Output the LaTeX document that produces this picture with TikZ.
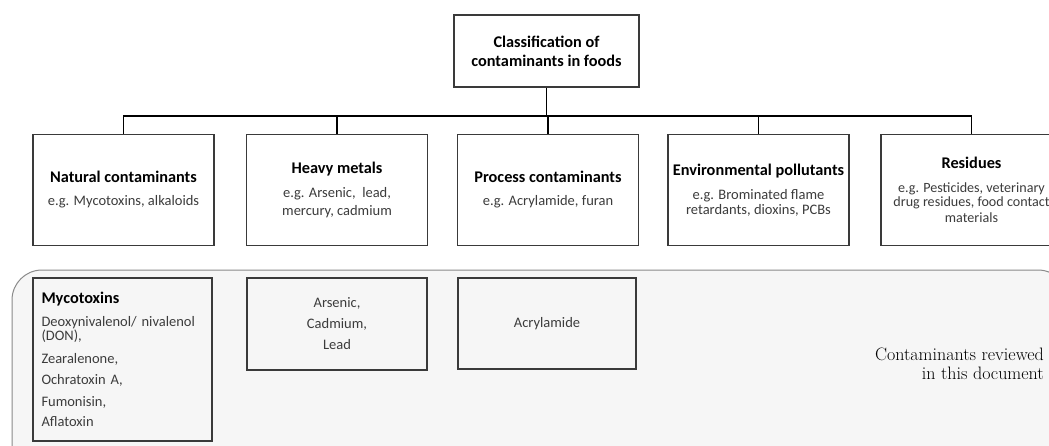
\documentclass[tikz,border=0pt]{standalone}
\usepackage{fontspec}
\newfontfamily\calfont{Carlito}
\definecolor{boxline}{HTML}{3A3A3A}
\definecolor{subtxt}{HTML}{3C3C3C}
\definecolor{regionfill}{HTML}{F6F6F6}
\definecolor{regionline}{HTML}{8A8A8A}
\tikzset{
  catbox/.style={draw=boxline, line width=1.2pt, fill=white, inner sep=0pt,
    align=center, text=subtxt, minimum width=181pt, minimum height=111pt,
    font=\calfont\fontsize{14.5}{16}\selectfont},
  subbox/.style={draw=boxline, line width=1.2pt, fill=regionfill, inner sep=0pt,
    align=center, text=subtxt, font=\calfont\fontsize{14.5}{21}\selectfont},
  conn/.style={draw=black, line width=1.5pt},
}
\newcommand{\ttl}[1]{{\color{black}\bfseries\fontsize{16.3}{16}\selectfont #1}}
\begin{document}
\begin{tikzpicture}[x=1pt,y=-1pt]
\useasboundingbox (0,0) rectangle (1049,445);
\fill[white] (0,0) rectangle (1049,445);
\begin{scope}
\clip (0,0) rectangle (1049,445);
\draw[draw=regionline, fill=regionfill, line width=1pt, rounded corners=30pt]
  (12,270) rectangle (1068,480);
\end{scope}

% top box
\node[draw=boxline, line width=1.2pt, fill=white, inner sep=0pt, align=center,
  minimum width=185pt, minimum height=72pt,
  font=\calfont\bfseries\fontsize{16.3}{19}\selectfont]
  (top) at (546.5,51) {Classification of\\contaminants in foods};

% category boxes
\node[catbox] (nat) at (123.5,190) {\ttl{Natural contaminants}\\[7pt]e.g. Mycotoxins, alkaloids};
\node[catbox] (hm) at (337,190) {\ttl{Heavy metals}\\[8pt]e.g. Arsenic,~ lead,\\[2pt]mercury, cadmium};
\node[catbox] (proc) at (548,190) {\ttl{Process contaminants}\\[7pt]e.g. Acrylamide, furan};
\node[catbox] (env) at (758.5,190) {\ttl{Environmental pollutants}\\[8pt]e.g. Brominated flame\\[-1pt]retardants, dioxins, PCBs};
\node[catbox, font=\calfont\fontsize{14.1}{16}\selectfont] (res) at (971.5,190)
  {\ttl{Residues}\\[8pt]e.g. Pesticides, veterinary\\[-2pt]drug residues, food contact\\materials};

% connectors
\coordinate (bus) at (0,116);
\draw[conn] (top.south) -- (top.south |- bus);
\draw[conn] (nat.north) -- (nat.north |- bus) -- (res.north |- bus) -- (res.north);
\draw[conn] (hm.north) -- (hm.north |- bus);
\draw[conn] (proc.north) -- (proc.north |- bus);
\draw[conn] (env.north) -- (env.north |- bus);

% reviewed contaminants
\node[subbox, align=left, text width=162pt, inner xsep=8.5pt,
  minimum width=179pt, minimum height=163pt,
  font=\calfont\fontsize{14.5}{14}\selectfont]
  (myco) at (122.5,359.5)
  {\ttl{Mycotoxins}\\[9pt]Deoxynivalenol/ nivalenol\\(DON),\\[9pt]Zearalenone,\\[7pt]Ochratoxin A,\\[8pt]Fumonisin,\\[6pt]Aflatoxin};
\node[subbox, minimum width=180pt, minimum height=92pt] (metals) at (337,324)
  {Arsenic,\\Cadmium,\\Lead};
\node[subbox, minimum width=178pt, minimum height=91pt] (acr) at (547,323.5)
  {Acrylamide};

\node[anchor=east, align=right, inner sep=0pt, text=black,
  font=\fontsize{18}{19}\selectfont] (cap) at (1044,363.5)
  {Contaminants reviewed\\in this document};
\end{tikzpicture}
\end{document}
